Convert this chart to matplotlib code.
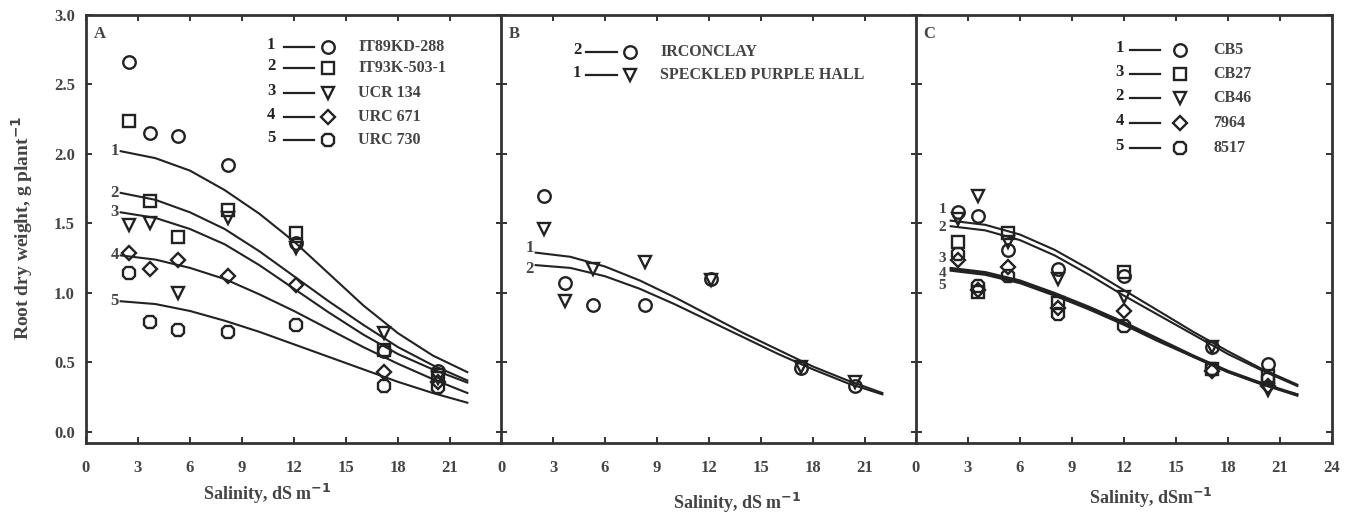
import matplotlib.pyplot as plt

plt.rcParams['font.family'] = ['Liberation Serif', 'DejaVu Serif']
plt.rcParams['font.weight'] = 'bold'

#Salinity levels (dS m-1) where root weight was measured
salinity_a = [2.5, 3.7, 5.3, 8.2, 12.1, 17.2, 20.3]
salinity_b = [2.5, 3.7, 5.3, 8.3, 12.1, 17.3, 20.4]
salinity_c = [2.4, 3.6, 5.3, 8.2, 12.0, 17.1, 20.3]

#Panel A measured root dry weight, g plant-1
it89kd_288 = [2.66, 2.15, 2.13, 1.92, 1.36, 0.58, 0.44]
it93k_503_1 = [2.24, 1.66, 1.40, 1.60, 1.43, 0.59, 0.41]
ucr_134 = [1.49, 1.50, 1.00, 1.54, 1.32, 0.71, 0.39]
urc_671 = [1.29, 1.17, 1.24, 1.12, 1.06, 0.43, 0.36]
urc_730 = [1.14, 0.79, 0.73, 0.72, 0.77, 0.33, 0.32]

#Panel B
irconclay = [1.70, 1.07, 0.91, 0.91, 1.10, 0.46, 0.33]
speckled_purple_hall = [1.46, 0.94, 1.17, 1.22, 1.09, 0.47, 0.36]

#Panel C
cb5 = [1.58, 1.55, 1.31, 1.17, 1.12, 0.61, 0.49]
cb27 = [1.37, 1.01, 1.43, 0.93, 1.15, 0.45, 0.40]
cb46 = [1.53, 1.70, 1.37, 1.10, 0.97, 0.61, 0.30]
c7964 = [1.24, 1.02, 1.19, 0.89, 0.87, 0.44, 0.33]
c8517 = [1.28, 1.05, 1.12, 0.85, 0.76, 0.45, 0.38]

#Fitted response curves
curve_x = [2, 4, 6, 8, 10, 12, 14, 16, 18, 20, 22]
fit_a1 = [2.02, 1.97, 1.88, 1.74, 1.57, 1.37, 1.14, 0.91, 0.71, 0.55, 0.43]
fit_a2 = [1.72, 1.67, 1.58, 1.46, 1.30, 1.12, 0.94, 0.77, 0.61, 0.48, 0.37]
fit_a3 = [1.58, 1.54, 1.46, 1.35, 1.20, 1.03, 0.86, 0.70, 0.56, 0.45, 0.355]
fit_a4 = [1.27, 1.24, 1.18, 1.10, 0.99, 0.87, 0.74, 0.61, 0.49, 0.38, 0.28]
fit_a5 = [0.94, 0.92, 0.87, 0.80, 0.72, 0.63, 0.54, 0.45, 0.36, 0.28, 0.21]
fit_b1 = [1.29, 1.26, 1.19, 1.09, 0.97, 0.84, 0.71, 0.59, 0.47, 0.37, 0.28]
fit_b2 = [1.20, 1.18, 1.12, 1.03, 0.92, 0.80, 0.68, 0.56, 0.45, 0.35, 0.27]
fit_c1 = [1.52, 1.49, 1.42, 1.31, 1.17, 1.02, 0.87, 0.72, 0.58, 0.45, 0.34]
fit_c2 = [1.48, 1.45, 1.38, 1.27, 1.13, 0.98, 0.84, 0.70, 0.56, 0.44, 0.33]
fit_c3 = [1.18, 1.15, 1.09, 1.00, 0.90, 0.79, 0.67, 0.55, 0.44, 0.35, 0.27]
fit_c4 = [1.17, 1.14, 1.08, 0.99, 0.89, 0.78, 0.66, 0.54, 0.43, 0.34, 0.27]
fit_c5 = [1.16, 1.13, 1.07, 0.98, 0.88, 0.77, 0.65, 0.54, 0.43, 0.34, 0.26]

names_a = ['IT89KD-288', 'IT93K-503-1', 'UCR 134', 'URC 671', 'URC 730']
names_b = ['IRCONCLAY', 'SPECKLED PURPLE HALL']
names_c = ['CB5', 'CB27', 'CB46', '7964', '8517']

ink = '#222222'
grey = '#444444'
fig = plt.figure(figsize=(13.49, 5.23), dpi=100)
W, H = 1349, 523
axes = []
for left in [86, 501, 916]:
    axes.append(fig.add_axes([left / W, 1 - 443 / H, 416 / W, 428 / H]))


def mark(ax, x, y, m, ms=9):
    ax.plot(x, y, ls='none', marker=m, ms=ms, mfc='none', mec=ink, mew=1.7, zorder=3)


def legend_row(ax, yy, num, m, name, xs, ms=9):
    #xs: number x, line start, line end, marker x, name x (axes fraction)
    ax.text(xs[0], yy + 0.005, num, transform=ax.transAxes, ha='right', va='center',
            fontsize=12, color=ink)
    ax.plot([xs[1], xs[2]], [yy, yy], transform=ax.transAxes, color=ink, lw=1.6)
    ax.plot([xs[3]], [yy], transform=ax.transAxes, ls='none', marker=m, ms=ms,
            mfc='none', mec=ink, mew=1.7)
    ax.text(xs[4], yy, name, transform=ax.transAxes, ha='left', va='center',
            fontsize=11.5, color=grey)


markers = ['o', 's', 'v', 'D', '8']
sizes = [9, 8, 9, 7, 9.5]

# Panel A
ax = axes[0]
fits = [fit_a1, fit_a2, fit_a3, fit_a4, fit_a5]
for fit in fits:
    ax.plot(curve_x, fit, color=ink, lw=1.5)
for i, fit in enumerate(fits):
    ax.text(1.9, fit[0], str(i + 1), ha='right', va='center', fontsize=12, color=grey)
mark(ax, salinity_a, it89kd_288, 'o')
mark(ax, salinity_a, it93k_503_1, 's', 8)
mark(ax, salinity_a, ucr_134, 'v', 9)
mark(ax, salinity_a, urc_671, 'D', 7)
mark(ax, salinity_a, urc_730, '8', 9.5)
rows = [0.925, 0.876, 0.818, 0.762, 0.708]
for i in range(5):
    legend_row(ax, rows[i], str(i + 1), markers[i], names_a[i],
               [0.455, 0.475, 0.547, 0.581, 0.655], sizes[i])

# Panel B
ax = axes[1]
ax.plot(curve_x, fit_b1, color=ink, lw=1.5)
ax.plot(curve_x, fit_b2, color=ink, lw=1.5)
ax.text(1.9, fit_b1[0] + 0.03, '1', ha='right', va='center', fontsize=12, color=grey)
ax.text(1.9, fit_b2[0] - 0.03, '2', ha='right', va='center', fontsize=12, color=grey)
mark(ax, salinity_b, irconclay, 'o')
mark(ax, salinity_b, speckled_purple_hall, 'v')
legend_row(ax, 0.914, '2', 'o', names_b[0], [0.193, 0.205, 0.280, 0.311, 0.383])
legend_row(ax, 0.860, '1', 'v', names_b[1], [0.193, 0.205, 0.280, 0.311, 0.383])

# Panel C
ax = axes[2]
for fit in [fit_c1, fit_c2, fit_c3, fit_c4, fit_c5]:
    ax.plot(curve_x, fit, color=ink, lw=1.5)
label_y = [1.60, 1.47, 1.25, 1.14, 1.05]
for i, yy in enumerate(label_y):
    ax.text(1.75, yy, str(i + 1), ha='right', va='center', fontsize=11, color=grey)
mark(ax, salinity_c, cb5, 'o')
mark(ax, salinity_c, cb27, 's', 8)
mark(ax, salinity_c, cb46, 'v')
mark(ax, salinity_c, c7964, 'D', 7)
mark(ax, salinity_c, c8517, '8', 9.5)
rows_c = [0.918, 0.862, 0.806, 0.748, 0.689]
nums_c = ['1', '3', '2', '4', '5']
for i in range(5):
    legend_row(ax, rows_c[i], nums_c[i], markers[i], names_c[i],
               [0.500, 0.514, 0.587, 0.635, 0.714], sizes[i])

for i, ax in enumerate(axes):
    ax.set_xlim(0, 24)
    ax.set_ylim(-0.08, 3.0)
    if i == 2:
        ax.set_xticks(range(0, 25, 3))
    else:
        ax.set_xticks(range(0, 22, 3))
    ax.set_yticks([0.0, 0.5, 1.0, 1.5, 2.0, 2.5, 3.0])
    ax.tick_params(direction='in', top=True, right=True, length=4, width=1.3,
                   colors=ink, labelsize=12, labelcolor=grey, pad=12)
    if i == 0:
        ax.set_yticklabels(['%.1f' % v for v in ax.get_yticks()])
        ax.tick_params(axis='y', pad=8)
    else:
        ax.set_yticklabels([])
    for side in ['left', 'right', 'top', 'bottom']:
        ax.spines[side].set_linewidth(2.0)
        ax.spines[side].set_color('#333333')
    ax.text(0.018, 0.975, 'ABC'[i], transform=ax.transAxes, ha='left', va='top',
            fontsize=12, color=grey)

fig.text(22 / W, 1 - 228 / H, 'Root dry weight, g plant$^{\\mathbf{-1}}$', rotation=90,
         ha='center', va='center', fontsize=14, color=grey)
fig.text(267 / W, 1 - 494 / H, 'Salinity, dS m$^{\\mathbf{-1}}$', ha='center', va='center',
         fontsize=13, color=grey)
fig.text(737 / W, 1 - 503 / H, 'Salinity, dS m$^{\\mathbf{-1}}$', ha='center', va='center',
         fontsize=13, color=grey)
fig.text(1151 / W, 1 - 498 / H, 'Salinity, dSm$^{\\mathbf{-1}}$', ha='center', va='center',
         fontsize=13, color=grey)

fig.savefig('out.png', dpi=100)
